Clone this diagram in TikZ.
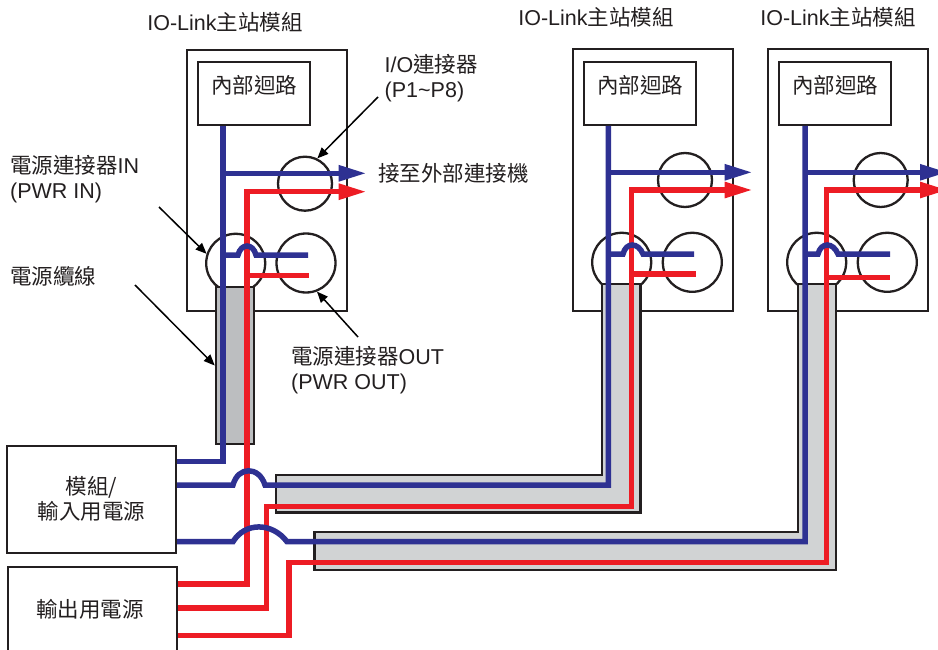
\documentclass[tikz,border=0pt]{standalone}
\usepackage{fontspec}
\setmainfont{Liberation Sans}
\newfontfamily\cjk{Noto Sans CJK TC}
\newcommand{\zh}[1]{{\cjk #1}}
\usetikzlibrary{arrows.meta}
\definecolor{wireblue}{HTML}{2E3192}
\definecolor{wirered}{HTML}{ED1C24}
\definecolor{inkblack}{HTML}{231F20}
\definecolor{cablegray}{HTML}{D1D3D4}
\definecolor{cabledark}{HTML}{BCBEC0}
\tikzset{
every node/.style={font=\fontsize{21.5}{25}\selectfont, text=inkblack, inner sep=0pt}, % all labels share one size
modulebox/.style={draw=inkblack, line width=2pt, minimum width=160pt, minimum height=261pt},
corebox/.style={draw=inkblack, line width=2pt, minimum width=112pt, minimum height=63pt, text height=15pt, text depth=14pt},
powerbox/.style={draw=inkblack, line width=2pt, minimum width=169pt, align=center},
port/.style={draw=inkblack, line width=2.3pt, circle, minimum size=54pt},
powerport/.style={draw=inkblack, line width=2.3pt, circle, minimum size=59pt},
cable/.style={draw=inkblack, line width=2.5pt, fill=cablegray},
bluewire/.style={draw=wireblue, line width=5.5pt},
redwire/.style={draw=wirered, line width=5.5pt},
outwire/.style={-{Triangle[length=28pt, width=15pt]}},
callout/.style={draw=black, line width=1.5pt, -{Triangle[length=11pt, width=9pt]}},
label/.style={anchor=west, align=left},
}
\begin{document}
\begin{tikzpicture}[x=1pt, y=-1pt]
  \clip (0,0) rectangle (938,650);

  % Modules
  \node[modulebox] (modA) at (267,180.5) {};
  \node[modulebox] (modB) at (653,180) {};
  \node[modulebox] (modC) at (848,180) {};
  \node[corebox] (coreA) at (254,93.5) {\zh{內部迴路}\hspace{4pt}};
  \node[corebox] (coreB) at (640,93.5) {\zh{內部迴路}\hspace{4pt}};
  \node[corebox] (coreC) at (835,93.5) {\zh{內部迴路}\hspace{4pt}};

  % Connectors
  \node[port] (ioA) at (305,183.7) {};
  \node[port] (ioB) at (685,180) {};
  \node[port] (ioC) at (880.7,180) {};
  \node[powerport] (inA) at (235.7,263.3) {};
  \node[powerport] (inB) at (621.7,262.3) {};
  \node[powerport] (inC) at (816.7,262.3) {};
  \node[powerport] (outA) at (306,263) {};
  \node[powerport] (outB) at (692.3,262.3) {};
  \node[powerport] (outC) at (887.3,262.3) {};

  % Supplies
  \node[powerbox, minimum height=107pt] (psA) at (91.5,499) {\zh{模組/}\hspace{6pt}\\[0pt]\zh{輸入用電源}\hspace{6pt}};
  \node[powerbox, minimum height=86pt] (psB) at (92,609.5) {\zh{輸出用電源}\hspace{4pt}};

  % Cables
  \node[cable, fill=cabledark, minimum width=38pt, minimum height=157pt] (cableA) at (235,365.5) {};
  \draw[cable] (276,475) -- (602,475) -- (602,284) -- (640.5,284) -- (640.5,512.5) -- (276,512.5) -- cycle;
  \draw[cable] (314.5,532) -- (798,532) -- (798,284) -- (836,284) -- (836,570) -- (314.5,570) -- cycle;

  % Wire ends
  \coordinate (srcBlueA) at (psA.east |- 0,461.7);
  \coordinate (srcBlueB) at (psA.east |- 0,485);
  \coordinate (srcBlueC) at (psA.east |- 0,541.7);
  \coordinate (srcRedA) at (psB.east |- 0,584);
  \coordinate (srcRedB) at (psB.east |- 0,608);
  \coordinate (srcRedC) at (psB.east |- 0,635.7);
  \coordinate (tapBlueA) at (223,173.3);
  \coordinate (tapBlueB) at (608.3,172.3);
  \coordinate (tapBlueC) at (805,172.3);
  \coordinate (tapRedA) at (247,191.7);
  \coordinate (tapRedB) at (631.7,190);
  \coordinate (tapRedC) at (826.7,190);
  \coordinate (endBlueA) at (366.7,173.3);
  \coordinate (endBlueB) at (752.7,172.3);
  \coordinate (endBlueC) at (948,172.3);
  \coordinate (endRedA) at (366.7,191.7);
  \coordinate (endRedB) at (752.7,190);
  \coordinate (endRedC) at (948,190);

  % Red wires
  \draw[redwire, outwire] (srcRedA) -| (tapRedA) -- (endRedA);
  \draw[redwire, outwire] (srcRedB) -- (266.7,608) -- (266.7,506.7) -- (631.7,506.7) -- (tapRedB) -- (endRedB);
  \draw[redwire, outwire] (srcRedC) -- (289,635.7) -- (289,562.3) -- (826.7,562.3) -- (tapRedC) -- (endRedC);
  \draw[redwire] (247,275.7) -- (309,275.7);
  \draw[redwire] (631.7,274) -- (696,274);
  \draw[redwire] (826.7,277.7) -- (890,277.7);

  % Blue wires
  \draw[bluewire] (srcBlueA) -| (coreA.south -| tapBlueA);
  \draw[bluewire] (srcBlueB) -- (233,485) .. controls (238,466) and (259,466) .. (265,485) -- (608.3,485) -- (coreB.south -| tapBlueB);
  \draw[bluewire] (srcBlueC) -- (233,541.7) .. controls (245,522) and (272,522) .. (287,541.7) -- (805,541.7) -- (coreC.south -| tapBlueC);
  \draw[bluewire, outwire] (tapBlueA) -- (endBlueA);
  \draw[bluewire, outwire] (tapBlueB) -- (endBlueB);
  \draw[bluewire, outwire] (tapBlueC) -- (endBlueC);
  \draw[bluewire] (223,255) -- (238,255) .. controls (241,243) and (253,243) .. (256,255) -- (308,255);
  \draw[bluewire] (608.3,254) -- (623,254) .. controls (626,242) and (638,242) .. (643,254) -- (694,254);
  \draw[bluewire] (805,254) -- (818,254) .. controls (821,242) and (833,242) .. (838,254) -- (890,254);

  % Labels
  \node (titleA) at (225,22) {IO-Link\zh{主站模組}};
  \node (titleB) at (596,17) {IO-Link\zh{主站模組}};
  \node (titleC) at (838,17) {IO-Link\zh{主站模組}};
  \node[label] (ioText) at (384.5,78) {I/O\zh{連接器}\\(P1\textasciitilde P8)};
  \node[label] (extText) at (378,173) {\zh{接至外部連接機}};
  \node[label] (inText) at (10,179) {\zh{電源連接器}IN\\(PWR IN)};
  \node[label] (cableText) at (10,276) {\zh{電源纜線}};
  \node[label] (outText) at (291,370.5) {\zh{電源連接器}OUT\\(PWR OUT)};

  % Callouts
  \coordinate (fromIo) at (378,97);
  \coordinate (fromIn) at (159,207);
  \coordinate (fromCable) at (135,285);
  \coordinate (fromOut) at (358,337);
  \draw[callout] (fromIo) -- (ioA.64);
  \draw[callout] (fromIn) -- (inA.162);
  \draw[callout] (fromCable) -- (cableA.west);
  \draw[callout] (fromOut) -- (outA.-69);
\end{tikzpicture}
\end{document}
